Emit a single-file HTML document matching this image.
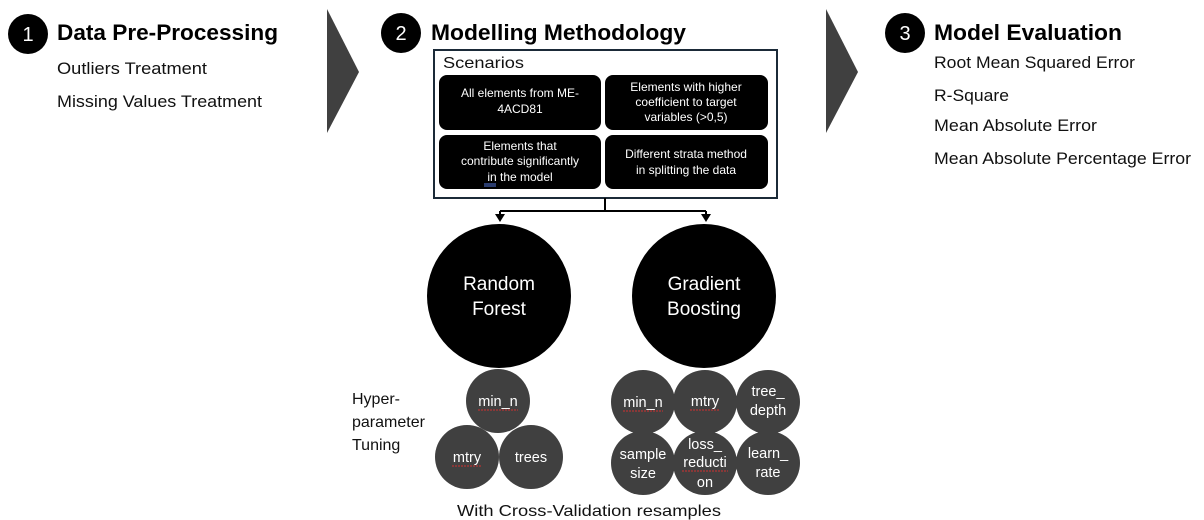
<!DOCTYPE html>
<html><head><meta charset="utf-8"><style>
html,body{margin:0;padding:0;background:#fff;}
svg{display:block;font-family:"Liberation Sans",sans-serif;}
</style></head><body>
<svg width="1204" height="520" viewBox="0 0 1204 520" xmlns="http://www.w3.org/2000/svg">
<!-- chevrons -->
<polygon points="327,9 359,72 327,133" fill="#404040"/>
<polygon points="826,9 858,72 826,133" fill="#404040"/>
<!-- headers -->
<circle cx="28" cy="34" r="20" fill="#000"/><text x="28" y="41" fill="#fff" font-size="20" text-anchor="middle">1</text>
<text x="57" y="40" font-size="22" font-weight="bold" textLength="221" lengthAdjust="spacingAndGlyphs">Data Pre-Processing</text>
<text x="57" y="74" font-size="16.5" fill="#111" textLength="150" lengthAdjust="spacingAndGlyphs">Outliers Treatment</text>
<text x="57" y="107" font-size="16.5" fill="#111" textLength="205" lengthAdjust="spacingAndGlyphs">Missing Values Treatment</text>

<circle cx="401" cy="33" r="20" fill="#000"/><text x="401" y="40" fill="#fff" font-size="20" text-anchor="middle">2</text>
<text x="431" y="40" font-size="22" font-weight="bold" textLength="255" lengthAdjust="spacingAndGlyphs">Modelling Methodology</text>

<circle cx="905" cy="33" r="20" fill="#000"/><text x="905" y="40" fill="#fff" font-size="20" text-anchor="middle">3</text>
<text x="934" y="40" font-size="22" font-weight="bold" textLength="188" lengthAdjust="spacingAndGlyphs">Model Evaluation</text>
<text x="934" y="68" font-size="16.5" fill="#111" textLength="201" lengthAdjust="spacingAndGlyphs">Root Mean Squared Error</text>
<text x="934" y="101" font-size="16.5" fill="#111" textLength="75" lengthAdjust="spacingAndGlyphs">R-Square</text>
<text x="934" y="131" font-size="16.5" fill="#111" textLength="163" lengthAdjust="spacingAndGlyphs">Mean Absolute Error</text>
<text x="934" y="164" font-size="16.5" fill="#111" textLength="257" lengthAdjust="spacingAndGlyphs">Mean Absolute Percentage Error</text>

<!-- scenarios box -->
<rect x="434" y="50" width="343" height="148" fill="#fff" stroke="#1b2a38" stroke-width="2"/>
<text x="443" y="68" font-size="16" fill="#111" textLength="81" lengthAdjust="spacingAndGlyphs">Scenarios</text>
<g fill="#000">
<rect x="439" y="75" width="162" height="55" rx="8"/>
<rect x="605" y="75" width="163" height="55" rx="8"/>
<rect x="439" y="135" width="162" height="54" rx="8"/>
<rect x="605" y="135" width="163" height="54" rx="8"/>
</g>
<g fill="#fff" font-size="12" text-anchor="middle">
<text x="520" y="97">All elements from ME-</text>
<text x="520" y="113">4ACD81</text>
<text x="686" y="91">Elements with higher</text>
<text x="686" y="106">coefficient to target</text>
<text x="686" y="121">variables (&gt;0,5)</text>
<text x="520" y="150">Elements that</text>
<text x="520" y="165">contribute significantly</text>
<text x="520" y="181">in the model</text>
<text x="686" y="158">Different strata method</text>
<text x="686" y="174">in splitting the data</text>
</g>
<line x1="484" y1="184" x2="496" y2="184" stroke="#5577dd" stroke-width="1"/>
<line x1="484" y1="186" x2="496" y2="186" stroke="#5577dd" stroke-width="1"/>
<!-- connectors -->
<path d="M605,198 V211 M500,211 H706 M500,211 V215 M706,211 V215" stroke="#000" stroke-width="2" fill="none"/>
<polygon points="495,214 505,214 500,222" fill="#000"/>
<polygon points="701,214 711,214 706,222" fill="#000"/>
<!-- big circles -->
<circle cx="499" cy="296" r="72" fill="#000"/>
<circle cx="704" cy="296" r="72" fill="#000"/>
<g fill="#fff" font-size="19" text-anchor="middle">
<text x="499" y="290">Random</text><text x="499" y="315">Forest</text>
<text x="704" y="290">Gradient</text><text x="704" y="315">Boosting</text>
</g>
<!-- small circles -->
<g fill="#404040">
<circle cx="498" cy="401" r="32"/><circle cx="467" cy="457" r="32"/><circle cx="531" cy="457" r="32"/>
<circle cx="643" cy="402" r="32"/><circle cx="705" cy="402" r="32"/><circle cx="768" cy="402" r="32"/>
<circle cx="643" cy="463" r="32"/><circle cx="705" cy="463" r="32"/><circle cx="768" cy="463" r="32"/>
</g>
<g fill="#fff" font-size="14.5" text-anchor="middle">
<text x="498" y="406">min_n</text>
<text x="467" y="462">mtry</text>
<text x="531" y="462">trees</text>
<text x="643" y="407">min_n</text>
<text x="705" y="406">mtry</text>
<text x="768" y="396">tree_</text><text x="768" y="415">depth</text>
<text x="643" y="459">sample</text><text x="643" y="478">size</text>
<text x="705" y="449">loss_</text><text x="705" y="467">reducti</text><text x="705" y="487">on</text>
<text x="768" y="458">learn_</text><text x="768" y="477">rate</text>
</g>
<g stroke="#d03030" stroke-width="1" fill="none" stroke-dasharray="2,1">
<line x1="478" y1="410" x2="518" y2="410"/><line x1="452" y1="466" x2="482" y2="466"/>
<line x1="623" y1="411" x2="663" y2="411"/><line x1="690" y1="410" x2="720" y2="410"/>
<line x1="682" y1="471" x2="728" y2="471"/>
</g>
<g font-size="16" fill="#111">
<text x="352" y="404">Hyper-</text><text x="352" y="427">parameter</text><text x="352" y="450">Tuning</text>
<text x="457" y="516" textLength="264" lengthAdjust="spacingAndGlyphs">With Cross-Validation resamples</text>
</g>
</svg>
</body></html>
